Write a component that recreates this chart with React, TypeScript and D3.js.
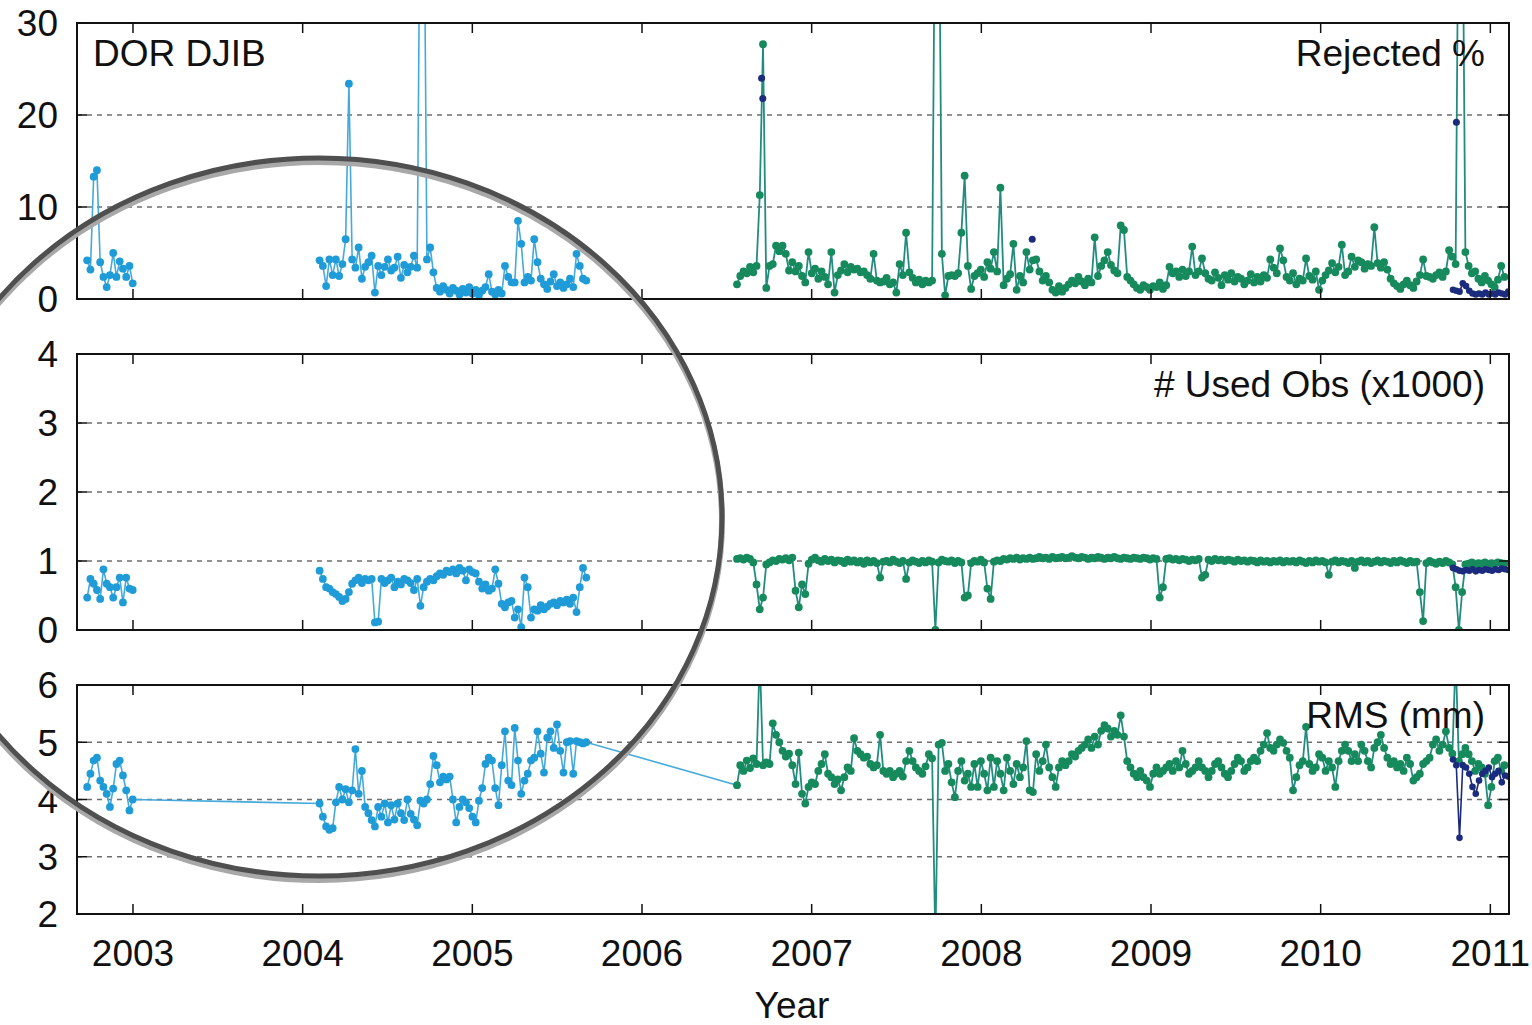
import React from 'react';
import * as d3 from 'd3';

// ---------- data ----------
const WEEK = 7 / 365.25;
const yearTicks = [2003, 2004, 2005, 2006, 2007, 2008, 2009, 2010, 2011];

const blueStart1 = 2002.73;
const blueStart2 = 2004.10;
const greenStart = 2006.56;
const navyStart = 2010.78;

// Rejected %
const rejBlue1 = [4.2, 3.2, 13.3, 14.0, 4.0, 2.4, 1.3, 2.6, 5.0, 2.4, 4.1, 3.3, 2.4, 3.6, 1.7];
const rejBlue2 = [
  4.2, 3.6, 1.4, 4.3, 2.6, 4.3, 2.5, 3.8, 6.5, 23.4,
  4.3, 3.4, 5.6, 2.2, 3.5, 4.0, 4.7, 0.7, 3.6, 2.6,
  3.5, 4.3, 3.1, 3.4, 4.6, 2.3, 3.7, 2.9, 3.5, 4.7,
  3.4, 50, 50, 4.3, 5.6, 2.9, 1.2, 0.8, 1.4, 1.0,
  0.6, 1.2, 0.9, 0.5, 1.1, 0.7, 1.3, 0.6, 1.0, 0.4,
  0.9, 1.3, 2.7, 0.8, 0.5, 1.0, 0.6, 3.6, 2.4, 1.8,
  1.8, 8.5, 6.0, 1.8, 2.4, 2.0, 6.5, 4.0, 2.2, 1.6,
  1.1, 1.9, 2.7, 1.4, 1.8, 1.2, 1.6, 2.2, 1.3, 4.9,
  3.6, 2.2, 2.0,
];
const rejGreen = [
  1.6, 2.5, 3.0, 2.8, 3.5, 2.9, 3.6, 11.3, 27.7, 1.2,
  3.6, 3.8, 5.8, 5.2, 5.8, 4.9, 3.1, 4.0, 3.0, 3.6,
  2.5, 1.8, 5.1, 2.8, 3.3, 2.2, 3.0, 2.4, 1.6, 5.1,
  0.7, 2.6, 3.1, 3.8, 2.9, 3.5, 3.2, 3.3, 2.9, 3.0,
  2.6, 2.2, 4.9, 2.0, 1.8, 1.9, 2.3, 1.6, 1.8, 0.7,
  3.8, 2.6, 7.2, 2.9, 2.3, 1.8, 2.1, 1.6, 2.0, 1.8,
  2.0, 50, 50, 4.9, 0.4, 2.5, 2.6, 2.5, 2.8, 7.2,
  13.4, 3.6, 1.1, 2.5, 2.8, 3.2, 2.4, 4.0, 3.3, 5.1,
  3.0, 12.1, 1.5, 2.2, 2.7, 6.0, 1.0, 2.5, 1.8, 5.1,
  3.2, 4.2, 4.3, 3.0, 2.0, 2.5, 1.8, 1.0, 0.7, 1.4,
  0.8, 1.2, 1.6, 2.0, 1.7, 2.4, 1.9, 1.5, 2.2, 1.8,
  6.7, 2.5, 3.6, 4.2, 5.1, 3.7, 3.1, 2.8, 8.0, 7.5,
  2.4, 2.0, 1.6, 1.2, 1.0, 1.5, 1.3, 1.0, 1.4, 1.3,
  1.8, 1.1, 1.5, 3.5, 2.8, 3.0, 2.4, 3.2, 2.5, 3.0,
  5.7, 2.6, 3.0, 4.4, 2.8, 2.2, 2.0, 2.9, 2.3, 1.5,
  2.6, 2.1, 2.8, 1.9, 2.4, 2.2, 1.6, 2.0, 2.7, 1.8,
  2.4, 1.9, 2.6, 2.3, 4.3, 3.4, 2.8, 5.5, 4.2, 2.4,
  2.0, 2.8, 1.6, 2.2, 2.0, 4.4, 2.5, 2.1, 3.0, 1.0,
  2.0, 2.6, 3.1, 3.9, 2.9, 3.5, 5.9, 2.6, 3.0, 4.6,
  3.5, 4.2, 4.0, 3.3, 3.8, 3.6, 7.8, 3.9, 3.4, 4.0,
  3.2, 2.2, 1.7, 1.4, 1.1, 1.6, 2.0, 1.5, 1.2, 1.9,
  2.6, 4.3, 2.5, 2.4, 2.2, 2.6, 2.9, 2.4, 3.0, 5.3,
  4.6, 3.8, 50, 50, 5.1, 3.6, 2.8, 3.0, 2.2, 1.8,
  2.5, 2.0, 1.6, 1.3, 2.1, 3.6, 2.4,
];
const rejNavy = [1.0, 0.9, 0.8, 1.7, 1.4, 0.9, 0.6, 0.5, 0.6, 0.5, 0.7, 0.5, 0.6, 0.5, 0.7, 0.6, 0.5, 0.8];
const rejNavyDotYears = [2006.705, 2006.712, 2008.30, 2010.80];
const rejNavyDotValues = [24.0, 21.8, 6.5, 19.2];

// # Used Obs (x1000)
const obsBlue1 = [0.47, 0.74, 0.67, 0.58, 0.45, 0.88, 0.67, 0.62, 0.47, 0.62, 0.76, 0.4, 0.76, 0.6, 0.58];
const obsBlue2 = [
  0.86, 0.74, 0.62, 0.6, 0.55, 0.52, 0.48, 0.42, 0.45, 0.55,
  0.67, 0.72, 0.76, 0.68, 0.74, 0.72, 0.74, 0.11, 0.12, 0.74,
  0.68, 0.72, 0.76, 0.62, 0.7, 0.66, 0.74, 0.72, 0.68, 0.58,
  0.74, 0.35, 0.62, 0.7, 0.74, 0.72, 0.78, 0.82, 0.8, 0.86,
  0.84, 0.88, 0.82, 0.9, 0.86, 0.72, 0.88, 0.84, 0.82, 0.7,
  0.6, 0.66, 0.57, 0.6, 0.88, 0.67, 0.38, 0.33, 0.4, 0.42,
  0.18, 0.3, 0.04, 0.76, 0.62, 0.18, 0.3, 0.28, 0.36, 0.3,
  0.34, 0.38, 0.4, 0.36, 0.42, 0.4, 0.44, 0.38, 0.47, 0.26,
  0.62, 0.9, 0.76,
];
const obsGreen = [
  1.03, 1.04, 1.02, 1.05, 1.03, 0.98, 0.66, 0.30, 0.47, 0.95,
  0.98, 1.01, 1.00, 1.03, 1.02, 1.04, 1.01, 1.05, 0.57, 0.33,
  0.66, 0.52, 0.96, 1.02, 1.05, 1.01, 0.99, 1.03, 1.00, 1.02,
  0.98, 1.01, 1.00, 0.97, 1.02, 0.99, 1.01, 0.98, 1.00, 0.96,
  1.01, 0.98, 1.00, 0.97, 0.76, 0.99, 1.00, 0.98, 1.02, 0.99,
  0.97, 1.00, 0.74, 0.98, 1.01, 0.99, 0.97, 1.00, 0.98, 1.01,
  0.99, 0.00, 0.98, 1.02, 1.00, 0.99, 1.01, 0.97, 1.00, 0.98,
  0.47, 0.50, 0.97, 1.00, 0.99, 1.02, 0.98, 0.60, 0.45, 0.99,
  1.01, 1.00, 1.03, 1.02, 1.04, 1.03, 1.05, 1.02, 1.04, 1.03,
  1.05, 1.03, 1.04, 1.06, 1.04, 1.05, 1.03, 1.06, 1.04, 1.05,
  1.06, 1.04, 1.05, 1.07, 1.05, 1.04, 1.06, 1.05, 1.03, 1.05,
  1.04, 1.06, 1.05, 1.03, 1.05, 1.04, 1.06, 1.04, 1.03, 1.05,
  1.04, 1.03, 1.05, 1.04, 1.03, 1.05, 1.04, 1.02, 1.04, 1.03,
  0.47, 0.62, 1.03, 1.04, 1.02, 1.03, 1.01, 1.03, 1.02, 1.00,
  1.02, 1.01, 1.03, 0.76, 0.80, 1.02, 1.00, 1.03, 1.01, 1.02,
  1.00, 1.02, 1.01, 0.99, 1.02, 1.00, 1.01, 0.99, 1.01, 1.00,
  0.98, 1.01, 0.99, 1.00, 0.98, 1.00, 0.99, 1.01, 0.98, 1.00,
  0.99, 1.00, 0.98, 1.01, 0.99, 0.97, 1.00, 0.98, 1.01, 0.99,
  1.00, 0.98, 0.80, 0.99, 1.01, 0.98, 1.00, 0.99, 0.97, 1.00,
  0.90, 0.99, 1.01, 0.98, 1.00, 0.97, 0.99, 1.01, 0.98, 1.00,
  0.99, 0.97, 1.00, 0.98, 1.01, 0.99, 0.97, 1.00, 0.98, 0.99,
  0.55, 0.13, 0.97, 1.00, 0.98, 0.96, 0.99, 0.97, 1.00, 0.98,
  0.95, 0.62, 0.00, 0.55, 0.95, 0.96, 0.98, 0.95, 0.97, 0.96,
  0.98, 0.95, 0.97, 0.96, 0.98, 0.97, 0.96,
];
const obsNavy = [0.9, 0.88, 0.86, 0.85, 0.87, 0.86, 0.88, 0.85, 0.87, 0.86, 0.88, 0.87, 0.86, 0.88, 0.87, 0.89, 0.88, 0.87];

// RMS (mm)
const rmsBlue1 = [4.22, 4.45, 4.68, 4.73, 4.33, 4.22, 4.1, 3.87, 4.19, 4.62, 4.68, 4.42, 4.16, 3.81, 4.0];
const rmsBlue2 = [
  3.93, 3.7, 3.53, 3.47, 3.5, 3.95, 4.22, 4.0, 4.18, 3.95,
  4.16, 4.88, 4.1, 4.5, 3.87, 3.76, 3.64, 3.53, 3.87, 3.7,
  3.93, 3.6, 3.9, 3.65, 3.93, 3.76, 3.64, 4.0, 3.75, 3.65,
  3.55, 3.98, 3.93, 4.0, 4.27, 4.76, 4.6, 4.3, 4.4, 4.35,
  4.4, 4.0, 3.6, 3.87, 4.0, 3.95, 3.85, 3.7, 3.6, 3.98,
  4.2, 4.62, 4.73, 4.68, 4.2, 3.9, 4.6, 5.19, 4.33, 4.25,
  5.25, 4.68, 4.1, 4.33, 4.45, 4.68, 4.73, 5.19, 4.8, 4.47,
  5.08, 5.19, 4.9, 5.31, 4.85, 4.47, 5.0, 5.02, 4.45, 5.02,
  5.0, 4.98, 5.0,
];
const rmsGreen = [
  4.25, 4.6, 4.5, 4.68, 4.55, 4.72, 4.62, 6.5, 4.6, 4.65,
  4.62, 5.33, 5.13, 5.0, 4.85, 4.75, 4.8, 4.6, 4.27, 4.82,
  4.1, 3.93, 4.22, 4.3, 4.27, 4.5, 4.62, 4.79, 4.45, 4.39,
  4.27, 4.35, 4.16, 4.39, 4.56, 4.5, 5.07, 4.85, 4.79, 4.73,
  4.75, 4.62, 4.56, 4.6, 5.13, 4.5, 4.45, 4.5, 4.39, 4.45,
  4.5, 4.4, 4.67, 4.85, 4.67, 4.56, 4.5, 4.45, 4.58, 4.79,
  4.72, 1.5, 4.96, 4.99, 4.5, 4.62, 4.3, 4.04, 4.5, 4.67,
  4.33, 4.45, 4.22, 4.62, 4.22, 4.67, 4.45, 4.16, 4.73, 4.22,
  4.67, 4.45, 4.16, 4.73, 4.5, 4.27, 4.62, 4.39, 4.56, 5.02,
  4.16, 4.13, 4.79, 4.5, 4.67, 4.96, 4.56, 4.39, 4.22, 4.56,
  4.67, 4.6, 4.67, 4.79, 4.75, 4.85, 4.9, 4.96, 5.05, 4.9,
  5.1, 4.96, 5.2, 5.3, 5.24, 5.1, 5.2, 5.13, 5.47, 5.1,
  4.67, 4.56, 4.45, 4.39, 4.5, 4.39, 4.33, 4.22, 4.45, 4.56,
  4.45, 4.5, 4.56, 4.62, 4.5, 4.67, 4.56, 4.85, 4.62, 4.45,
  4.5, 4.56, 4.67, 4.56, 4.5, 4.39, 4.5, 4.62, 4.67, 4.56,
  4.45, 4.39, 4.5, 4.62, 4.73, 4.67, 4.5, 4.56, 4.67, 4.73,
  4.67, 4.85, 4.96, 5.16, 4.9, 4.85, 4.96, 5.05, 4.99, 4.85,
  4.73, 4.16, 4.39, 4.6, 4.67, 5.27, 4.62, 4.5, 4.56, 4.79,
  4.73, 4.5, 4.67, 4.56, 4.22, 4.67, 4.85, 4.96, 4.85, 4.67,
  4.79, 4.67, 4.96, 4.85, 4.67, 4.56, 4.9, 5.0, 5.13, 4.9,
  4.73, 4.62, 4.67, 4.56, 4.62, 4.5, 4.73, 4.62, 4.33, 4.39,
  4.45, 4.62, 4.67, 4.73, 4.96, 5.05, 4.85, 4.96, 5.19, 4.9,
  4.8, 6.5, 4.67, 4.79, 4.9, 4.79, 4.67, 4.5, 4.62, 4.56,
  4.45, 3.9, 4.22, 4.67, 4.73, 4.5, 4.6,
];
const rmsNavy = [4.7, 4.6, 3.33, 4.6, 4.56, 4.45, 4.22, 4.1, 4.33, 4.45, 4.5, 4.56, 4.39, 4.45, 4.5, 4.3, 4.42, 4.4];

// ---------- helpers ----------
type P = { x: number; y: number };
const seq = (start: number, vals: number[]): P[] => vals.map((v, i) => ({ x: start + i * WEEK, y: v }));

const COLORS = {
  blueDot: '#1f9bd8',
  blueLine: '#45aadb',
  greenDot: '#168a5c',
  greenLine: '#238c80',
  navy: '#1b2b7e',
};

const FONT = '"Liberation Sans", Arial, Helvetica, sans-serif';
const FS = 37;

const X0 = 77;
const X1 = 1509;
const x = d3.scaleLinear().domain([2002.67, 2011.11]).range([X0, X1]);

type Panel = {
  key: string;
  top: number;
  bottom: number;
  domain: [number, number];
  ticks: number[];
  label: string;
  blueSegs: P[][];
  blueLineSegs: P[][];
  green: P[];
  navy: P[];
  navyDots: P[];
};

const panels: Panel[] = [
  {
    key: 'rej', top: 23, bottom: 299, domain: [0, 30], ticks: [0, 10, 20, 30], label: 'Rejected %',
    blueSegs: [seq(blueStart1, rejBlue1), seq(blueStart2, rejBlue2)],
    blueLineSegs: [seq(blueStart1, rejBlue1), seq(blueStart2, rejBlue2)],
    green: seq(greenStart, rejGreen),
    navy: seq(navyStart, rejNavy),
    navyDots: rejNavyDotYears.map((yr, i) => ({ x: yr, y: rejNavyDotValues[i] })),
  },
  {
    key: 'obs', top: 354, bottom: 630, domain: [0, 4], ticks: [0, 1, 2, 3, 4], label: '# Used Obs (x1000)',
    blueSegs: [seq(blueStart1, obsBlue1), seq(blueStart2, obsBlue2)],
    blueLineSegs: [seq(blueStart1, obsBlue1), seq(blueStart2, obsBlue2)],
    green: seq(greenStart, obsGreen),
    navy: seq(navyStart, obsNavy),
    navyDots: [],
  },
  {
    key: 'rms', top: 685, bottom: 914, domain: [2, 6], ticks: [2, 3, 4, 5, 6], label: 'RMS (mm)',
    blueSegs: [seq(blueStart1, rmsBlue1), seq(blueStart2, rmsBlue2)],
    blueLineSegs: [[...seq(blueStart1, rmsBlue1), ...seq(blueStart2, rmsBlue2), seq(greenStart, rmsGreen)[0]]],
    green: seq(greenStart, rmsGreen),
    navy: seq(navyStart, rmsNavy),
    navyDots: [],
  },
];

const R = 3.9;

function PanelView({ p }: { p: Panel }) {
  const y = d3.scaleLinear().domain(p.domain).range([p.bottom, p.top]);
  const line = d3.line<P>().x((d) => x(d.x)).y((d) => y(d.y));
  const clipId = `clip-${p.key}`;
  const inner = p.ticks.filter((t) => t !== p.domain[0] && t !== p.domain[1]);
  return (
    <g>
      <defs>
        <clipPath id={clipId}>
          <rect x={X0} y={p.top} width={X1 - X0} height={p.bottom - p.top} />
        </clipPath>
      </defs>
      {inner.map((t) => (
        <line key={`g${t}`} x1={X0} x2={X1} y1={y(t)} y2={y(t)} stroke="#6e6e6e" strokeWidth={1.3} strokeDasharray="5,5" />
      ))}
      <g clipPath={`url(#${clipId})`}>
        {p.blueLineSegs.map((s, i) => (
          <path key={`bl${i}`} d={line(s) || ''} fill="none" stroke={COLORS.blueLine} strokeWidth={1.6} />
        ))}
        {p.blueSegs.map((s, i) => (
          <g key={`bd${i}`}>
            {s.map((d, j) => (
              <circle key={j} cx={x(d.x)} cy={y(d.y)} r={R} fill={COLORS.blueDot} />
            ))}
          </g>
        ))}
        <path d={line(p.green) || ''} fill="none" stroke={COLORS.greenLine} strokeWidth={1.8} />
        {p.green.map((d, j) => (
          <circle key={`gd${j}`} cx={x(d.x)} cy={y(d.y)} r={R} fill={COLORS.greenDot} />
        ))}
        <path d={line(p.navy) || ''} fill="none" stroke={COLORS.navy} strokeWidth={1.6} />
        {p.navy.map((d, j) => (
          <circle key={`nd${j}`} cx={x(d.x)} cy={y(d.y)} r={R - 0.6} fill={COLORS.navy} />
        ))}
        {p.navyDots.map((d, j) => (
          <circle key={`nx${j}`} cx={x(d.x)} cy={y(d.y)} r={R - 0.4} fill={COLORS.navy} />
        ))}
      </g>
      {/* frame */}
      <rect x={X0} y={p.top} width={X1 - X0} height={p.bottom - p.top} fill="none" stroke="#111" strokeWidth={2} />
      {/* x ticks */}
      {yearTicks.map((t) => (
        <g key={`xt${t}`}>
          <line x1={x(t)} x2={x(t)} y1={p.bottom} y2={p.bottom - 10} stroke="#111" strokeWidth={1.5} />
          <line x1={x(t)} x2={x(t)} y1={p.top} y2={p.top + 10} stroke="#111" strokeWidth={1.5} />
        </g>
      ))}
      {/* y ticks + labels */}
      {p.ticks.map((t) => (
        <g key={`yt${t}`}>
          <line x1={X0} x2={X0 + 10} y1={y(t)} y2={y(t)} stroke="#111" strokeWidth={1.5} />
          <line x1={X1} x2={X1 - 10} y1={y(t)} y2={y(t)} stroke="#111" strokeWidth={1.5} />
          <text x={58} y={y(t)} dy="0.36em" textAnchor="end" fontSize={FS} fontFamily={FONT} fill="#111">
            {t}
          </text>
        </g>
      ))}
      <text x={1485} y={p.top + 43} textAnchor="end" fontSize={FS} fontFamily={FONT} fill="#111">
        {p.label}
      </text>
    </g>
  );
}

export default function App() {
  const bottomPanel = panels[2];
  // highlight ellipse
  const cx = 319, cy = 517, rx = 403, ry = 359;
  return (
    <svg
      width={1532}
      height={1025}
      style={{ position: 'absolute', left: 0, top: 0, background: '#fff' }}
      xmlns="http://www.w3.org/2000/svg"
    >
      <rect x={0} y={0} width={1532} height={1025} fill="#fff" />
      {panels.map((p) => (
        <PanelView key={p.key} p={p} />
      ))}
      <text x={93} y={66} fontSize={FS} fontFamily={FONT} fill="#111">
        DOR DJIB
      </text>
      {yearTicks.map((t) => (
        <text key={`xl${t}`} x={x(t)} y={bottomPanel.bottom + 52} textAnchor="middle" fontSize={FS} fontFamily={FONT} fill="#111">
          {t}
        </text>
      ))}
      <text x={792} y={1018} textAnchor="middle" fontSize={FS} fontFamily={FONT} fill="#111">
        Year
      </text>
      <ellipse cx={cx} cy={cy + 4} rx={rx} ry={ry} fill="none" stroke="#a8a8a8" strokeWidth={6} />
      <ellipse cx={cx} cy={cy} rx={rx} ry={ry} fill="none" stroke="#4f4f4f" strokeWidth={5} />
    </svg>
  );
}
